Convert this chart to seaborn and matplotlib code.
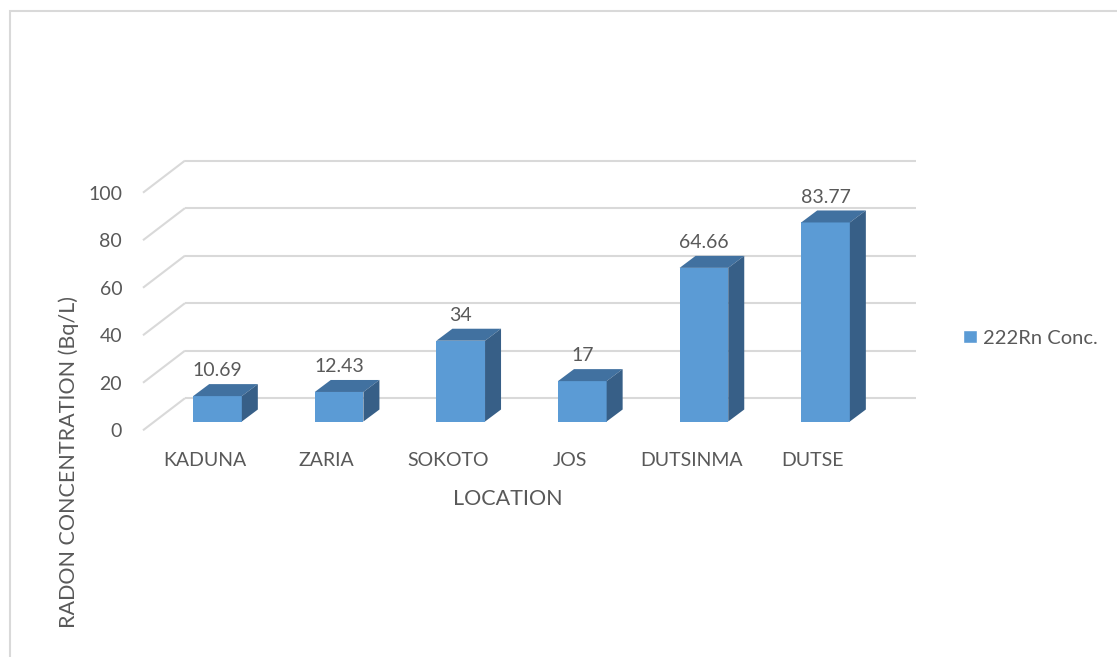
import numpy as np
import matplotlib
matplotlib.use("Agg")
import matplotlib.pyplot as plt
from matplotlib.patches import Polygon, Rectangle, Patch
import seaborn as sns

# Data
locations = ["KADUNA", "ZARIA", "SOKOTO", "JOS", "DUTSINMA", "DUTSE"]
radon_conc = [10.69, 12.43, 34, 17, 64.66, 83.77]
value_labels = ["10.69", "12.43", "34", "17", "64.66", "83.77"]
grid_values = [0, 20, 40, 60, 80, 100]
series_name = "222Rn Conc."

# Styling
FRONT = "#5B9BD5"
TOP = "#4171A0"
SIDE = "#375F87"
GRID = "#D9D9D9"
TEXT = "#595959"
FS = 14          # tick labels, data labels, legend
FS_TITLE = 15.5  # axis titles

sns.set_theme(style="white")
plt.rcParams["font.family"] = ["Lato", "DejaVu Sans"]

W, H = 1117, 657
fig = plt.figure(figsize=(W / 100, H / 100), dpi=100)
ax = fig.add_axes([143 / W, 1 - 430.3 / H, 773 / W, 272.3 / H])

# Oblique "3-D" projection: depth shifts x (category units) and y (value units)
XMIN, XMAX = -0.6127, 5.744
YMIN, YMAX = -3.7, 110.9
WALL_DX = 0.345        # depth of the side wall along x
FLOOR_FRONT = -3.7     # value shift of the front edge of the floor
FLOOR_BACK = 9.8       # value shift of the back wall
BAR_DX = 0.1316        # bar depth along x
BAR_DY = 5.05          # bar depth along y

# Gridlines: diagonal on the side wall, horizontal on the back wall
for g in grid_values:
    ax.plot([XMIN, XMIN + WALL_DX], [g + FLOOR_FRONT, g + FLOOR_BACK],
            color=GRID, lw=1.5, zorder=0, clip_on=False, solid_capstyle="butt")
    ax.plot([XMIN + WALL_DX, XMAX], [g + FLOOR_BACK, g + FLOOR_BACK],
            color=GRID, lw=1.5, zorder=0, clip_on=False, solid_capstyle="butt")

# Front faces of the bars
sns.barplot(x=locations, y=radon_conc, color=FRONT, saturation=1, width=0.4,
            linewidth=0, ax=ax, zorder=2)

# Top and side faces, derived from each drawn bar
for p, txt in zip(ax.patches, value_labels):
    x0, w, h = p.get_x(), p.get_width(), p.get_height()
    top = Polygon([(x0, h), (x0 + BAR_DX, h + BAR_DY),
                   (x0 + w + BAR_DX, h + BAR_DY), (x0 + w, h)],
                  closed=True, facecolor=TOP, edgecolor="none", zorder=2)
    side = Polygon([(x0 + w, 0), (x0 + w + BAR_DX, BAR_DY),
                    (x0 + w + BAR_DX, h + BAR_DY), (x0 + w, h)],
                   closed=True, facecolor=SIDE, edgecolor="none", zorder=2)
    ax.add_patch(top)
    ax.add_patch(side)
    ax.annotate(txt, (x0 + w / 2, h + BAR_DY), xytext=(0, 9.5),
                textcoords="offset points", ha="center", va="center",
                fontsize=FS, color=TEXT, zorder=3)

ax.set_xlim(XMIN, XMAX)
ax.set_ylim(YMIN, YMAX)

ax.set_xticks(np.arange(len(locations)) - 0.105, locations)
ax.set_yticks([g + FLOOR_FRONT for g in grid_values], [str(g) for g in grid_values])
ax.tick_params(axis="both", length=0, labelsize=FS, labelcolor=TEXT)
ax.tick_params(axis="x", pad=22)
ax.tick_params(axis="y", pad=15)
for lab in ax.get_xticklabels():
    lab.set_va("center")
for s in ax.spines.values():
    s.set_visible(False)
ax.grid(False)

ax.set_xlabel("LOCATION", fontsize=FS_TITLE, color=TEXT)
ax.xaxis.set_label_coords(0.4718, -0.2523)
ax.xaxis.label.set_va("center")
ax.set_ylabel("RADON CONCENTRATION (Bq/L)", fontsize=FS_TITLE, color=TEXT)
ax.yaxis.set_label_coords(-0.0957, -0.1164)
ax.yaxis.label.set_va("center")
ax.yaxis.label.set_ha("center")

ax.legend(handles=[Patch(facecolor=FRONT, label=series_name)],
          loc="center left", bbox_to_anchor=(963 / W, 1 - 338 / H),
          bbox_transform=fig.transFigure, frameon=False,
          handlelength=0.7, handleheight=0.68, handletextpad=0.3,
          borderpad=0, borderaxespad=0, fontsize=FS + 0.5, labelcolor=TEXT)

# Chart-area border (left and top edges visible)
fig.patches.append(Rectangle((10 / W, -0.1), 1.2, 1 - 11 / H + 0.1,
                             transform=fig.transFigure, fill=False,
                             edgecolor=GRID, lw=1.5))

fig.savefig("out.png", dpi=100)
